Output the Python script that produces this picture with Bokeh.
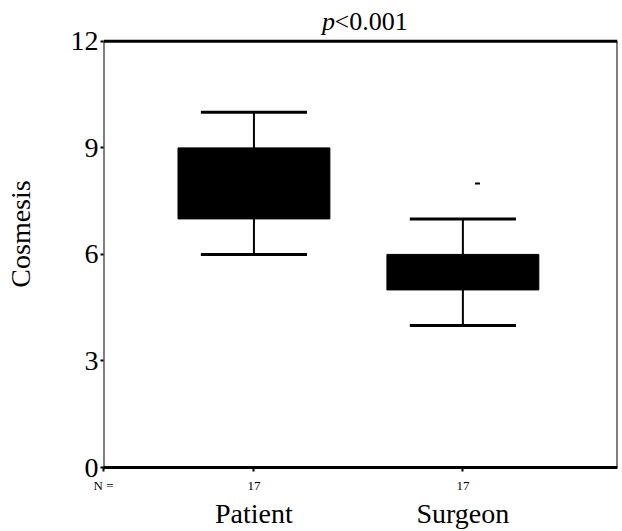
from bokeh.plotting import figure
from bokeh.models import Range1d, FixedTicker, LinearAxis, Label, ColumnDataSource
from bokeh.transform import dodge
from bokeh.embed import file_html
from bokeh.resources import INLINE

# ---- data ----
groups = ["Patient", "Surgeon"]
n_counts = [17, 17]
whisker_low = [6, 4]
q1 = [7, 5]
q3 = [9, 6]
whisker_high = [10, 7]
outlier_group = ["Surgeon"]
outlier_value = [8]
y_ticks = [0, 3, 6, 9, 12]
p_text_italic = "p"
p_text_rest = "<0.001"
n_label = "N ="

SERIF = "Liberation Serif"

# axis extents (the visible box spans x_lo..x_hi and y 0..y_ticks[-1];
# the frame extends a little above so the p-value text is not clipped)
X_LO, X_HI = 0.28, 2.74
Y_LO, Y_HI = y_ticks[0], y_ticks[-1]
Y_FRAME_TOP = 13.15
Y_TITLE = 12.565

xs = [i + 1 for i in range(len(groups))]
src = ColumnDataSource(dict(x=xs, lo=whisker_low, q1=q1, q3=q3, hi=whisker_high))
out_src = ColumnDataSource(dict(x=[xs[groups.index(g)] for g in outlier_group], y=outlier_value))

p = figure(width=622, height=531, output_backend="svg", toolbar_location=None,
           x_range=Range1d(X_LO, X_HI), y_range=Range1d(Y_LO, Y_FRAME_TOP),
           min_border_left=103, min_border_right=5, min_border_top=0, min_border_bottom=63)
p.grid.visible = False
p.outline_line_color = None
p.background_fill_color = "white"
p.border_fill_color = "white"

# visible box border (top, right, left)
p.segment(x0=[X_LO], y0=[Y_HI], x1=[X_HI], y1=[Y_HI], line_color="black", line_width=3)
p.segment(x0=[X_HI], y0=[Y_LO], x1=[X_HI], y1=[Y_HI], line_color="black", line_width=2)
p.segment(x0=[X_LO], y0=[Y_LO], x1=[X_LO], y1=[Y_HI], line_color="black", line_width=2)

# boxes
p.vbar(x="x", width=0.727, bottom="q1", top="q3", fill_color="black",
       line_color="black", source=src)
# whiskers
p.segment(x0="x", y0="q3", x1="x", y1="hi", line_color="black", line_width=2, source=src)
p.segment(x0="x", y0="q1", x1="x", y1="lo", line_color="black", line_width=2, source=src)
# caps
p.segment(x0=dodge("x", -0.254), y0="hi", x1=dodge("x", 0.254), y1="hi",
          line_color="black", line_width=3, source=src)
p.segment(x0=dodge("x", -0.254), y0="lo", x1=dodge("x", 0.254), y1="lo",
          line_color="black", line_width=3, source=src)
# outlier (tiny dash)
p.scatter(x=dodge("x", 0.07), y="y", marker="dash", size=5, line_color="black",
          line_width=2, source=out_src)

# y axis
ya = p.yaxis[0]
ya.ticker = FixedTicker(ticks=y_ticks)
ya.major_label_text_font = SERIF
ya.major_label_text_font_size = "28px"
ya.major_label_text_color = "black"
ya.major_tick_out = 3
ya.major_tick_in = 0
ya.major_tick_line_width = 2
ya.minor_tick_line_color = None
ya.axis_line_color = None
ya.major_label_standoff = 2
ya.axis_label = "Cosmesis"
ya.axis_label_text_font = SERIF
ya.axis_label_text_font_size = "28px"
ya.axis_label_text_font_style = "normal"
ya.axis_label_text_color = "black"
ya.axis_label_standoff = 32

# x axis: N counts (plus "N =" at the left edge)
xa = p.xaxis[0]
xa.ticker = FixedTicker(ticks=[X_LO] + xs)
overrides = {X_LO: n_label}
overrides.update({x: str(n) for x, n in zip(xs, n_counts)})
xa.major_label_overrides = overrides
xa.major_label_text_font = SERIF
xa.major_label_text_font_size = "13px"
xa.major_label_text_color = "black"
xa.major_tick_out = 4
xa.major_tick_in = 0
xa.major_tick_line_width = 2
xa.minor_tick_line_color = None
xa.axis_line_width = 3
xa.axis_line_color = "black"
xa.major_label_standoff = 6
xa.axis_label_standoff = 0

# x axis: group names
xa2 = LinearAxis(ticker=FixedTicker(ticks=xs),
                 major_label_overrides={x: g for x, g in zip(xs, groups)})
xa2.axis_line_color = None
xa2.major_tick_line_color = None
xa2.minor_tick_line_color = None
xa2.major_tick_out = 0
xa2.major_tick_in = 0
xa2.major_label_text_font = SERIF
xa2.major_label_text_font_size = "28px"
xa2.major_label_text_color = "black"
xa2.major_label_standoff = 2
xa2.axis_label_standoff = 0
p.add_layout(xa2, "below")

# p-value text with italic p (inside the extended frame, above the box)
p.add_layout(Label(x=1.3254, y=Y_TITLE, text=p_text_italic, text_font=SERIF,
                   text_font_size="26px", text_font_style="italic", text_align="left",
                   text_baseline="alphabetic", text_color="black"))
p.add_layout(Label(x=1.386, y=Y_TITLE, text=p_text_rest, text_font=SERIF,
                   text_font_size="26px", text_font_style="normal", text_align="left",
                   text_baseline="alphabetic", text_color="black"))

open("out.html", "w").write(file_html(p, INLINE))
